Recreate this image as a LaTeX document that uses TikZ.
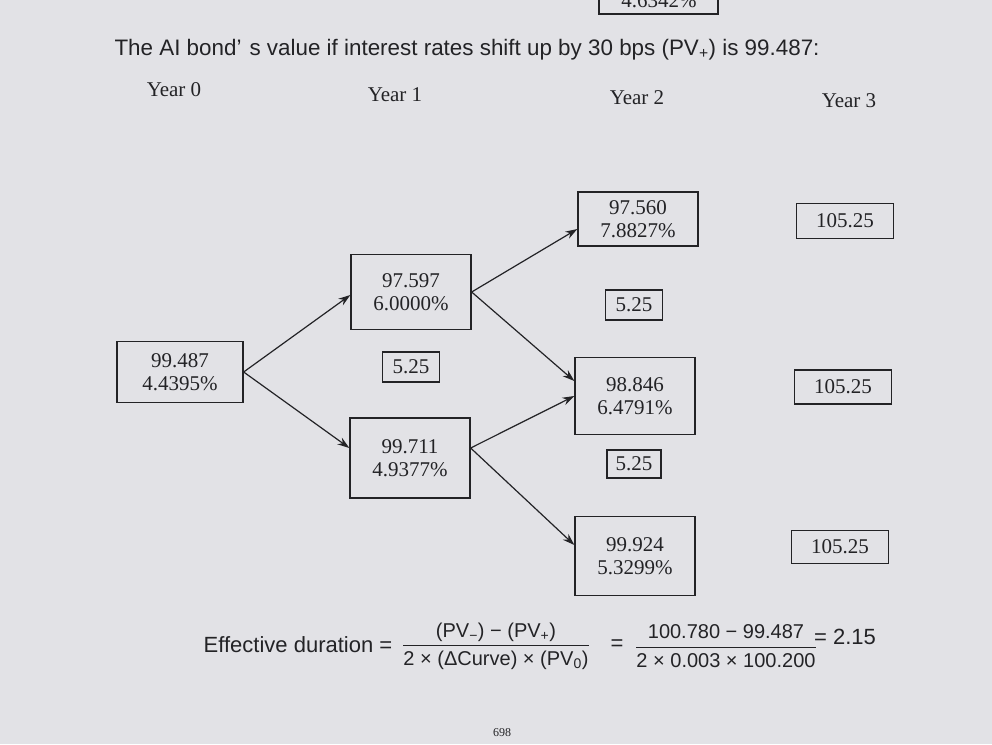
\documentclass[tikz,border=0pt]{standalone}
\usepackage{fontspec}
\usepackage{amsmath}
\setmainfont{Liberation Serif}
\newfontfamily\sansfont{Liberation Sans}
\usetikzlibrary{arrows.meta}

\definecolor{screen}{RGB}{226,226,230}
\definecolor{ink}{RGB}{35,35,38}

\newcommand{\ratio}[2]{$\dfrac{\text{#1}}{\text{#2}}$}

\tikzset{
  rate/.style={draw=ink, line width=1.3pt, text=ink, minimum width=120pt, minimum height=77pt, align=center, font=\fontsize{21}{23}\selectfont},
  cash/.style={draw=ink, line width=1.3pt, text=ink, minimum width=57pt, minimum height=30pt, font=\fontsize{21}{23}\selectfont},
  final/.style={cash, minimum width=97pt, minimum height=35pt},
  year/.style={text=ink, font=\fontsize{21}{23}\selectfont},
  formula/.style={text=ink, font=\sansfont\fontsize{22}{26}\selectfont},
  fraction/.style={text=ink, font=\sansfont\fontsize{20}{24}\selectfont},
  arr/.style={draw=ink, line width=1.2pt, -{Stealth[length=12pt,width=8pt]}},
}

\begin{document}
\begin{tikzpicture}[x=1pt, y=-1pt]
  \fill[screen] (0,0) rectangle (992,744);
  \useasboundingbox (0,0) rectangle (992,744);

  % box left over from the page above
  \begin{scope}
    \clip (0,0) rectangle (992,16);
    \draw[ink, line width=1.3pt] (599,-5) |- (718,14) -- (718,-5);
    \node[text=ink, anchor=base, font=\fontsize{21}{23}\selectfont] (prev) at (659,7) {4.6342\%};
  \end{scope}

  \node[text=ink, font=\sansfont\fontsize{22.4}{26}\selectfont] (title) at (467,50)
    {The AI bond’\hspace{8pt}s value if interest rates shift up by 30 bps (PV\textsubscript{+}) is 99.487:};

  \node[year] (y0) at (174,90) {Year 0};
  \node[year] (y1) at (395,95) {Year 1};
  \node[year] (y2) at (637,98) {Year 2};
  \node[year] (y3) at (849,101) {Year 3};

  % tree
  \node[rate, minimum width=126pt, minimum height=61pt] (n0) at (180,372) {99.487\\4.4395\%};
  \node[rate, minimum height=75pt] (u1) at (411,292) {97.597\\6.0000\%};
  \node[rate, minimum height=80pt] (d1) at (410,458) {99.711\\4.9377\%};
  \node[rate, minimum height=54pt] (uu2) at (638,219) {97.560\\7.8827\%};
  \node[rate, minimum height=77pt] (ud2) at (635,396) {98.846\\6.4791\%};
  \node[rate, minimum height=79pt] (dd2) at (635,556) {99.924\\5.3299\%};

  \node[cash] (c1) at (411,367) {5.25};
  \node[cash] (c2a) at (634,305) {5.25};
  \node[cash, minimum width=54pt, minimum height=28pt] (c2b) at (634,464) {5.25};

  \node[final] (f1) at (845,221) {105.25};
  \node[final, minimum height=34pt] (f2) at (843,387) {105.25};
  \node[final, minimum height=33pt] (f3) at (840,547) {105.25};

  \draw[arr] (n0.east) -- ([yshift=-3pt]u1.west);
  \draw[arr] (n0.east) -- ([yshift=10pt]d1.west);
  \draw[arr] (u1.east) -- ([yshift=-10pt]uu2.west);
  \draw[arr] (u1.east) -- ([yshift=15pt]ud2.west);
  \draw[arr] ([yshift=10pt]d1.east) -- (ud2.west);
  \draw[arr] ([yshift=10pt]d1.east) -- ([yshift=11pt]dd2.west);

  % duration
  \node[formula] (eff) at (298,645) {Effective duration =};
  \node[fraction] (frac1) at (496,646) {\ratio{(PV\textsubscript{−}) − (PV\textsubscript{+})}{2 × (ΔCurve) × (PV\textsubscript{0})}};
  \node[formula] (eq) at (617,645) {=};
  \node[fraction] (frac2) at (726,646) {\ratio{100.780 − 99.487}{2 × 0.003 × 100.200}};
  \node[formula] (res) at (845,637) {= 2.15};

  \node[text=ink, font=\fontsize{12}{14}\selectfont] (page) at (502,733) {698};
\end{tikzpicture}
\end{document}
